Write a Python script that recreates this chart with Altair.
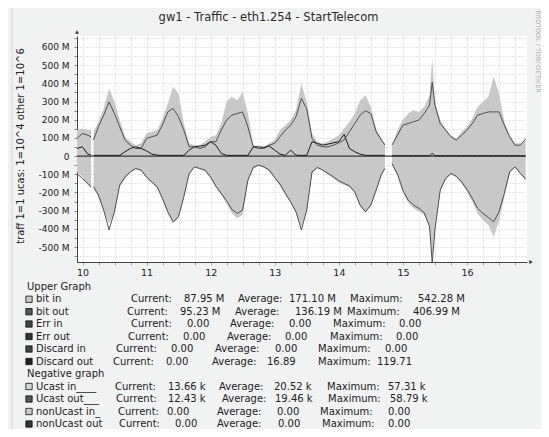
import altair as alt
import pandas as pd

# ---------------- data ----------------
START_DAY = 10.414          # left edge of the graph, in days of the month
HOURS = [0, 2, 4, 5.3, 5.7, 6.2, 8, 10, 12, 14,
         16, 18, 20, 22, 24, 26, 28, 30, 32, 34,
         36, 38, 40, 42, 44, 46, 48, 50, 52, 54,
         56, 58, 60, 62, 64, 66, 68, 70, 72, 74,
         76, 78, 80, 82, 84, 86, 88, 90, 92, 94,
         96, 98, 100, 102, 104, 106, 108, 110, 112, 114,
         115.3, 116.5, 117.9, 120, 122, 124, 126, 128, 130, 132,
         133, 134, 136, 138, 140, 142, 144, 146, 148, 150,
         152, 154, 156, 158, 160, 162, 164, 166, 168]

# Upper graph (Mbit/s)
BIT_IN = [143, 152, 143, 143, None, 134, 189, 262, 372, 298,
          198, 106, 79, 60, 70, 124, 134, 143, 207, 289,
          381, 344, 179, 70, 60, 60, 79, 106, 115, 179,
          298, 326, 307, 353, 234, 60, 51, 51, 70, 88,
          143, 170, 198, 253, 399, 298, 124, 79, 70, 79,
          97, 115, 152, 189, 234, 307, 335, 271, 152, 97,
          70, None, 60, 143, 198, 234, 253, 243, 271, 335,
          542, 298, 198, 152, 115, 97, 134, 161, 207, 271,
          298, 326, 436, 344, 189, 115, 70, 70, 88]
BIT_OUT = [97, 124, 115, 106, None, 88, 161, 225, 298, 234,
           161, 88, 60, 42, 42, 97, 106, 115, 170, 243,
           262, 216, 143, 51, 51, 42, 51, 79, 79, 143,
           198, 225, 234, 243, 161, 51, 42, 42, 60, 70,
           106, 143, 170, 216, 317, 262, 97, 60, 51, 51,
           60, 73, 88, 134, 179, 225, 249, 234, 134, 88,
           60, None, 60, 115, 170, 179, 189, 198, 234, 280,
           407, 280, 179, 143, 106, 88, 115, 143, 179, 225,
           234, 243, 243, 243, 170, 106, 60, 60, 95]
DISCARD_OUT = [42, 51, 11, 5, None, 4, 4, 4, 4, 4,
               4, 24, 42, 51, 42, 29, 11, 5, 4, 4,
               4, 4, 4, 33, 51, 55, 60, 79, 60, 15,
               4, 4, 4, 4, 4, 51, 51, 48, 55, 33,
               11, 4, 33, 5, 4, 4, 79, 70, 60, 66,
               73, 79, 119.71, 42, 24, 11, 4, 4, 4, 4,
               4, None, 2, 2, 2, 2, 2, 2, 2, 2,
               15, 2, 2, 2, 2, 2, 2, 2, 2, 2,
               2, 2, 2, 2, 2, 2, 2, 2, 0]
# Negative graph (k packets/s, drawn with 1 = 10^4)
UCAST_IN_K = [8.6, 11.4, 15.9, 17.8, None, 17.8, 22.3, 30.6, 37.0, 31.5,
              16.8, 12.3, 9.2, 7.3, 8.1, 12.3, 15.0, 17.8, 24.2, 31.5,
              37.0, 34.2, 23.2, 10.4, 6.2, 7.3, 8.6, 12.3, 17.2, 21.4,
              26.0, 31.5, 34.2, 32.4, 14.1, 6.8, 5.5, 6.4, 8.6, 12.6,
              16.3, 21.4, 26.0, 31.5, 38.8, 30.6, 9.5, 6.8, 8.2, 10.1,
              12.3, 14.5, 15.9, 17.2, 20.5, 27.8, 31.1, 27.8, 19.6, 10.6,
              7.3, None, 4.9, 10.8, 20.0, 25.6, 28.7, 30.6, 32.4, 38.8,
              57.31, 39.7, 19.6, 13.2, 10.1, 11.7, 15.0, 19.6, 25.1, 31.5,
              35.1, 37.9, 44.3, 36.1, 22.3, 9.5, 6.2, 10.1, 13.66]
UCAST_OUT_K = [9.5, 12.3, 15.0, 16.8, None, 16.8, 21.4, 29.7, 40.6, 30.6,
               15.9, 11.4, 8.6, 6.8, 7.7, 11.4, 14.1, 16.8, 23.2, 30.6,
               36.1, 33.3, 22.3, 9.5, 5.9, 6.8, 7.7, 11.4, 16.5, 20.5,
               24.5, 29.3, 31.5, 29.7, 13.2, 6.2, 4.9, 5.9, 7.7, 11.7,
               15.4, 20.5, 25.1, 30.6, 40.6, 29.7, 8.6, 6.2, 7.7, 9.5,
               11.4, 13.5, 15.0, 16.3, 19.6, 26.9, 30.6, 26.9, 18.7, 9.9,
               6.8, None, 4.0, 9.9, 18.7, 24.2, 26.9, 28.7, 31.1, 38.8,
               58.79, 40.6, 18.7, 12.3, 9.5, 11.0, 14.1, 18.3, 23.2, 28.7,
               31.5, 33.7, 36.1, 30.6, 20.5, 8.6, 5.9, 9.5, 12.43]

# Legend texts
LEGEND_LABELS = ["bit in", "bit out", "Err in", "Err out", "Discard in", "Discard out",
                 "Ucast in____", "Ucast out___", "nonUcast in_", "nonUcast out"]
CURRENT = ["87.95 M", "95.23 M", "0.00", "0.00", "0.00", "0.00",
           "13.66 k", "12.43 k", "0.00", "0.00"]
AVERAGE = ["171.10 M", "136.19 M", "0.00", "0.00", "0.00", "16.89",
           "20.52 k", "19.46 k", "0.00", "0.00"]
MAXIMUM = ["542.28 M", "406.99 M", "0.00", "0.00", "0.00", "119.71",
           "57.31 k", "58.79 k", "0.00", "0.00"]

TITLE = "gw1 - Traffic - eth1.254 - StartTelecom"
Y_TITLE = "traff 1=1 ucas: 1=10^4 other 1=10^6"
WATERMARK = "RRDTOOL / TOBI OETIKER"

# ---------------- layout / style ----------------
OX, OY = 77, 36            # plot origin on the page
W, H = 450, 226
PX_PER_DAY = 64.1
Y_DOMAIN = [-582, 660]
AREA_COLOR = "#c8c8c8"
LINE_COLOR = "#505050"
SWATCH = ["#c8c8c8", "#555555", "#444444", "#333333", "#444444", "#222222",
          "#d4d4d4", "#555555", "#cccccc", "#333333"]
ROW_Y = [299.3, 311.7, 324, 336.5, 349, 361.5, 386.5, 399, 411.5, 424]
HEAD = [("Upper Graph", 287), ("Negative graph", 374)]
COLX = [[131, 184, 238, 289, 350, 418],
        [127, 180, 235, 295, 347, 413],
        [131, 187, 230, 289, 333, 399],
        [128, 183, 227, 285, 330, 396],
        [116, 171, 215, 275, 318, 385],
        [113, 166, 212, 267, 318, 377],
        [115, 168, 219, 274, 327, 388],
        [116, 168, 222, 275, 328, 390],
        [118, 167, 217, 277, 320, 388],
        [119, 175, 217, 278, 322, 388]]


def page_to_t(x):
    return START_DAY + (x - OX) / PX_PER_DAY


def page_to_v(y):
    return Y_DOMAIN[1] - (y - OY) * (Y_DOMAIN[1] - Y_DOMAIN[0]) / H


# ---------------- build tables ----------------
df = pd.DataFrame({"h": HOURS, "bit_in": BIT_IN, "bit_out": BIT_OUT,
                   "discard_out": DISCARD_OUT, "ucast_in": UCAST_IN_K,
                   "ucast_out": UCAST_OUT_K}).astype(float)
df["t"] = START_DAY + df["h"] / 24.0
df["seg"] = df["bit_in"].isna().cumsum()
df = df.dropna().copy()
df["ucast_in_neg"] = -df["ucast_in"] * 10.0
df["ucast_out_neg"] = -df["ucast_out"] * 10.0

texts = []
for name, y in HEAD:
    texts.append({"text": name, "lt": page_to_t(27), "lv": page_to_v(y)})
for i, lab in enumerate(LEGEND_LABELS):
    yv = page_to_v(ROW_Y[i])
    texts.append({"text": lab, "lt": page_to_t(36), "lv": yv})
    cells = ["Current:", CURRENT[i], "Average:", AVERAGE[i], "Maximum:", MAXIMUM[i]]
    for c, xx in zip(cells, COLX[i]):
        texts.append({"text": c, "lt": page_to_t(xx), "lv": yv})
leg_df = pd.DataFrame(texts)
sq_df = pd.DataFrame({"lt": [page_to_t(29)] * 10,
                      "lv": [page_to_v(y) for y in ROW_Y], "col": SWATCH})
one = pd.DataFrame({"a": [0]})

# ---------------- scales / axes ----------------
x_scale = alt.Scale(domain=[START_DAY, START_DAY + W / PX_PER_DAY], nice=False, zero=False)
y_scale = alt.Scale(domain=Y_DOMAIN, nice=False, zero=False)
x_axis = alt.Axis(values=[10.5 + 0.25 * i for i in range(28)],
                  labelExpr="(datum.value*4)%4==2 ? '' + floor(datum.value) : ''",
                  grid=True, gridColor="#cdcdcd", gridDash=[1, 2], tickSize=3,
                  tickColor="#aaaaaa", domainColor="#444444", labelFontSize=9.5,
                  labelColor="#222222", labelPadding=2, labelOverlap=False,
                  labelFlush=False, title=None)
y_axis = alt.Axis(values=list(range(-550, 651, 50)),
                  labelExpr="datum.value % 100 == 0 ? (datum.value == 0 ? '0' : datum.value + ' M') : ''",
                  grid=True, gridColor="#cdcdcd", gridDash=[1, 2], tickSize=3,
                  tickColor="#888888", domainColor="#444444", labelFontSize=9,
                  labelColor="#222222", labelPadding=5, labelOverlap=False, title=None)


def X(field):
    return alt.X(field, type="quantitative", scale=x_scale, axis=x_axis)


def Y(field):
    return alt.Y(field, type="quantitative", scale=y_scale, axis=y_axis)


base = alt.Chart(df)

frame = alt.Chart(one).mark_rect(fillOpacity=0, stroke="#d5d8d8", strokeWidth=1).encode(
    x=alt.value(12 - OX), x2=alt.value(560 - OX), y=alt.value(5 - OY), y2=alt.value(433 - OY))

area_in = base.mark_area(color=AREA_COLOR, clip=True).encode(
    x=X("t"), y=Y("bit_in"), y2=alt.datum(0), detail="seg:N")
area_uc = base.mark_area(color=AREA_COLOR, clip=True).encode(
    x=X("t"), y=Y("ucast_in_neg"), y2=alt.datum(0), detail="seg:N")
line_out = base.mark_line(color=LINE_COLOR, strokeWidth=1, clip=True).encode(
    x=X("t"), y=Y("bit_out"), detail="seg:N")
line_uc = base.mark_line(color=LINE_COLOR, strokeWidth=1, clip=True).encode(
    x=X("t"), y=Y("ucast_out_neg"), detail="seg:N")
zero = base.mark_rule(color="#111111", strokeWidth=1).encode(
    x=alt.X("min(t):Q", scale=x_scale, axis=x_axis), x2="max(t):Q",
    y=alt.Y(datum=0, scale=y_scale, axis=y_axis))
line_disc = base.mark_line(color="#1a1a1a", strokeWidth=1, clip=True).encode(
    x=X("t"), y=Y("discard_out"), detail="seg:N")

arrow_up = alt.Chart(one).mark_point(shape="triangle-up", filled=True, size=16,
                                     color="#333333", opacity=1).encode(
    x=alt.value(0), y=alt.value(-4))
arrow_rt = alt.Chart(one).mark_point(shape="triangle-right", filled=True, size=16,
                                     color="#333333", opacity=1).encode(
    x=alt.value(W + 4), y=alt.value(H))

title = alt.Chart(one).mark_text(text=TITLE, fontSize=11.5, color="#2a2a2a",
                                 align="center", baseline="middle").encode(
    x=alt.value(268.5 - OX), y=alt.value(18 - OY))
ytitle = alt.Chart(one).mark_text(text=Y_TITLE, fontSize=10, color="#222222", angle=270,
                                  align="center", baseline="middle").encode(
    x=alt.value(21 - OX), y=alt.value(146 - OY))
wmark = alt.Chart(one).mark_text(text=WATERMARK, fontSize=6.4, color="#b0b0b0", angle=90,
                                 align="center", baseline="middle").encode(
    x=alt.value(538 - OX), y=alt.value(51.5 - OY))

leg_text = alt.Chart(leg_df).mark_text(align="left", baseline="middle", fontSize=10,
                                       color="#222222").encode(
    x=X("lt"), y=Y("lv"), text="text:N")
leg_sq = alt.Chart(sq_df).mark_square(size=40, filled=True, opacity=1, stroke="#111111",
                                      strokeWidth=0.8).encode(
    x=X("lt"), y=Y("lv"), color=alt.Color("col:N", scale=None))

chart = alt.layer(
    frame, area_in, area_uc, line_out, line_uc, zero, line_disc,
    arrow_up, arrow_rt, title, ytitle, wmark, leg_sq, leg_text
).properties(
    width=W, height=H,
    autosize=alt.AutoSizeParams(type="none"),
    padding={"left": OX - 8, "top": OY - 8, "right": 533 - (OX - 8) - W,
             "bottom": 421 - (OY - 8) - H},
    background="#f1f2f2",
).configure(font="DejaVu Sans").configure_view(fill="#ffffff", strokeWidth=0)

chart.save("out.html", embed_options={"renderer": "svg", "actions": False})
